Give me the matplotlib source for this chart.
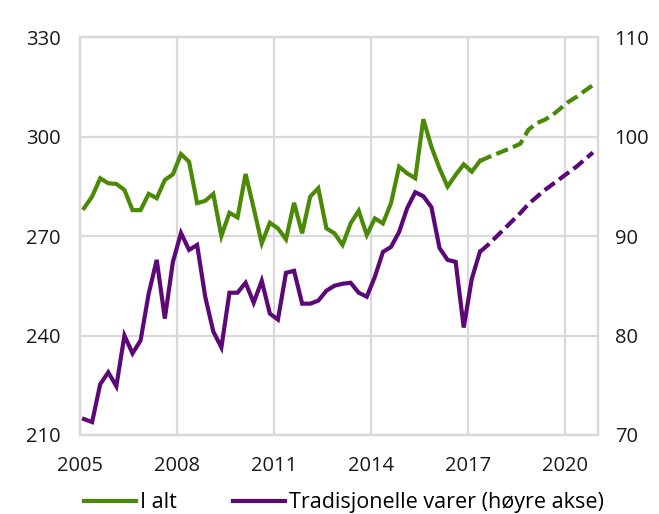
import matplotlib
matplotlib.use("Agg")
import matplotlib.pyplot as plt
from matplotlib.lines import Line2D

plt.rcParams['font.family'] = ['Open Sans', 'DejaVu Sans']

# Quarterly observations 2005Q1 - 2017Q2
start_year = 2005
total_actual = [278.4, 281.9, 287.4, 285.9,
                285.7, 283.9, 277.8, 277.8,
                282.7, 281.4, 286.9, 288.6,
                294.7, 292.4, 279.9, 280.6,
                282.7, 270.0, 277.0, 275.6,
                288.7, 278.4, 267.8, 274.0,
                272.3, 269.0, 280.0, 270.8,
                281.9, 284.4, 272.3, 270.8,
                267.3, 273.8, 277.6, 270.3,
                275.3, 273.8, 279.9, 290.9,
                288.9, 287.4, 305.2, 296.9,
                290.4, 284.9, 288.4, 291.6,
                289.4, 292.6]
trad_actual = [71.6, 71.3, 75.1, 76.3,
               74.9, 80.0, 78.2, 79.5,
               84.2, 87.6, 81.7, 87.4,
               90.3, 88.6, 89.1, 83.9,
               80.4, 78.8, 84.3, 84.3,
               85.3, 83.3, 85.5, 82.2,
               81.6, 86.3, 86.5, 83.2,
               83.2, 83.5, 84.5, 85.0,
               85.2, 85.3, 84.3, 83.9,
               85.9, 88.4, 88.9, 90.4,
               92.8, 94.4, 94.0, 92.9,
               88.8, 87.6, 87.4, 80.8,
               85.7, 88.4]
# Projection 2017Q2 - 2020Q4
total_proj = [292.6, 293.7, 294.7, 295.7, 296.7, 297.8, 302.0, 304.0,
              305.0, 306.5, 308.5, 310.5, 312.0, 313.8, 315.5]
trad_proj = [88.4, 89.1, 89.9, 90.7, 91.5, 92.3, 93.2, 93.9,
             94.6, 95.2, 95.8, 96.4, 97.0, 97.7, 98.4]

x_ticks = [2005, 2008, 2011, 2014, 2017, 2020]
left_ticks = [210, 240, 270, 300, 330]
right_ticks = [70, 80, 90, 100, 110]
labels = ['I alt', 'Tradisjonelle varer (høyre akse)']

def qpos(i):
    return start_year + (i + 0.5) / 4.0

x_act = [qpos(i) for i in range(len(total_actual))]
x_proj = [qpos(len(total_actual) - 1 + i) for i in range(len(total_proj))]

green = '#4A8A06'
purple = '#5C0878'
grid_c = '#D9D9D9'

fig = plt.figure(figsize=(6.59, 5.14), dpi=100)
ax = fig.add_axes([0.1214, 0.1537, 0.786, 0.7743])
ax2 = ax.twinx()

ax.plot(x_act, total_actual, color=green, lw=3, solid_joinstyle='miter', zorder=3)
ax.plot(x_proj, total_proj, color=green, lw=3, dashes=(3, 1.3), zorder=3)
ax2.plot(x_act, trad_actual, color=purple, lw=3, solid_joinstyle='miter', zorder=3)
ax2.plot(x_proj, trad_proj, color=purple, lw=3, dashes=(3, 1.3), zorder=3)

ax.set_xlim(2005, 2021.03)
ax.set_ylim(210, 330)
ax2.set_ylim(70, 110)
ax.set_xticks(x_ticks)
ax.set_yticks(left_ticks)
ax2.set_yticks(right_ticks)

ax.grid(True, color=grid_c, lw=1.6)
ax.set_axisbelow(True)
for a in (ax, ax2):
    for s in a.spines.values():
        s.set_color(grid_c)
        s.set_linewidth(1.6)
    a.tick_params(length=0, labelsize=14.5, colors='#1a1a1a')
ax.tick_params(axis='y', pad=14)
ax2.tick_params(axis='y', pad=12)
ax.tick_params(axis='x', pad=15)

handles = [Line2D([], [], color=green, lw=3), Line2D([], [], color=purple, lw=3)]
fig.legend(handles, labels, loc='center', bbox_to_anchor=(0.522, 0.022), ncol=2,
           frameon=False, fontsize=15.5, handlelength=2.4, handletextpad=0.2,
           columnspacing=2.6)

fig.savefig('out.png', dpi=100)
